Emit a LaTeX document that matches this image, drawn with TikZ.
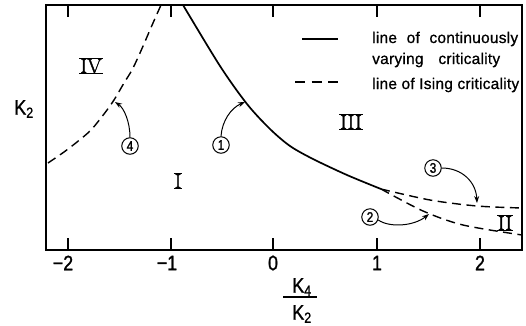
\documentclass[tikz,border=0pt]{standalone}
\usepackage{fontspec}
\newfontfamily\labfont{Liberation Sans}[FakeStretch=0.85,FakeBold=1.2]
\newfontfamily\legfont{Liberation Sans}[LetterSpace=1.5,FakeBold=0.8]
\newfontfamily\romfont{Latin Modern Roman}[FakeBold=1.8]
\usetikzlibrary{arrows.meta}
\begin{document}
\begin{tikzpicture}[x=1pt,y=-1pt,
  frame/.style={line width=1.4pt},
  tickmark/.style={line width=1.1pt},
  crit/.style={line width=1.7pt},
  ising/.style={line width=1.4pt, dash pattern=on 9pt off 5.5pt},
  tag/.style={circle, draw, line width=1pt, minimum size=16.5pt, inner sep=0pt, font=\labfont\fontsize{14}{14}\selectfont},
  pointer/.style={line width=1pt, -{Stealth[length=7pt,width=5pt]}},
  numeral/.style={font=\romfont\fontsize{21}{21}\selectfont, inner xsep=0.6pt, inner ysep=0pt},
  bar/.style={line width=1.4pt},
  ticklab/.style={font=\labfont\fontsize{21}{21}\selectfont, inner sep=0pt},
  axlab/.style={font=\labfont\fontsize{21}{21}\selectfont, inner sep=0pt},
  legtext/.style={font=\legfont\fontsize{15.5}{15.5}\selectfont, anchor=base west, inner sep=0pt}
]
\useasboundingbox (0,0) rectangle (526,325);
% frame
\draw[frame] (46,5) rectangle (522,250);
% ticks
\foreach \x in {68,171,273,377,480}{
  \draw[tickmark] (\x,250) -- (\x,238);
  \draw[tickmark] (\x,5) -- (\x,17);
}
% tick labels
\node[ticklab] (tm2) at (63,263) {−2};
\node[ticklab] (tm1) at (167,263) {−1};
\node[ticklab] (t0) at (273,263) {0};
\node[ticklab] (tp1) at (377,263) {1};
\node[ticklab] (tp2) at (480,263) {2};
% axis labels
\node[axlab] (ylab) at (24,109) {K\textsubscript{2}};
\node[axlab] (kfour) at (302,287) {K\textsubscript{4}};
\node[axlab] (ktwo) at (302,314) {K\textsubscript{2}};
\draw[line width=1.3pt] (283,297) -- (317,297);
% curves
\draw[crit] plot[smooth] coordinates {(183,5) (220,66) (247,104) (270,129) (290,146) (313,159) (347,175) (381,189)};
\draw[ising] plot[smooth] coordinates {(48,163) (64,152) (77,142) (91,130) (104,114) (114,100) (124,83) (132,70) (140,53) (153,23) (161,5)};
\draw[ising] plot[smooth] coordinates {(381,189) (430,200) (477,206) (522,208)};
\draw[ising] plot[smooth] coordinates {(381,189) (423,211) (463,225) (522,235)};
% region numerals
\node[numeral] (nI) at (178,181) {I};
\node[numeral] (nII) at (505,223) {II};
\node[numeral] (nIII) at (351,122) {III};
\node[numeral] (nIV) at (91,66) {IV};
\foreach \n in {nI,nII,nIII,nIV}
  \draw[bar] (\n.north west) -- (\n.north east) (\n.south west) -- (\n.south east);
% tags and pointers
\node[tag] (c1) at (221,145) {1};
\node[tag] (c2) at (370,217) {2};
\node[tag] (c3) at (433,168) {3};
\node[tag] (c4) at (130,146) {4};
\coordinate (t1) at (245,102);
\coordinate (t2) at (429,214);
\coordinate (t3) at (477,203);
\coordinate (t4) at (115,102);
\draw[pointer] (c1.north) .. controls (222,121) and (231,108) .. (t1);
\draw[pointer] (c4.north) .. controls (130,122) and (124,108) .. (t4);
\draw[pointer] (c3.east) .. controls (462,168) and (476,182) .. (t3);
\draw[pointer] (c2.-20) .. controls (390,228) and (414,226) .. (t2);
% legend
\coordinate (ls1) at (302,39);
\coordinate (ls2) at (338,39);
\coordinate (ld1) at (295,82);
\coordinate (ld2) at (338,82);
\draw[line width=1.4pt] (ls1) -- (ls2);
\draw[line width=1.4pt, dash pattern=on 10pt off 6.5pt] (ld1) -- (ld2);
\node[legtext] (lg1) at (372,43) {\makebox[146pt][s]{line of continuously}};
\node[legtext] (lg2) at (372,64) {\makebox[128pt][s]{varying criticality}};
\node[legtext] (lg3) at (372,89) {line of Ising criticality};
\end{tikzpicture}
\end{document}
